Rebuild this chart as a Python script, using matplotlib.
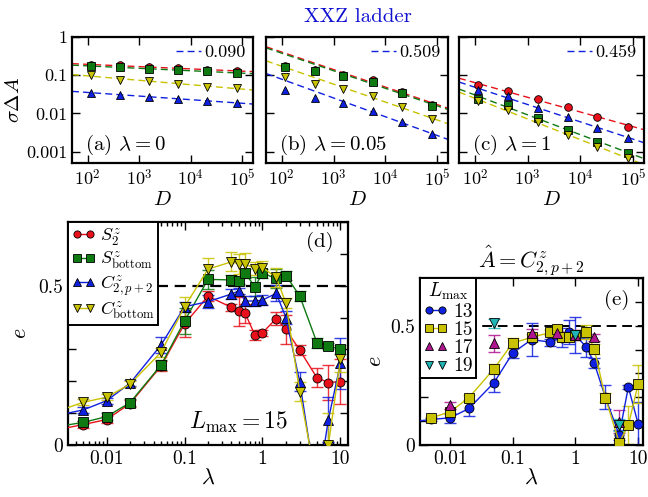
import numpy as np
import matplotlib
matplotlib.use('Agg')
import matplotlib.pyplot as plt
from matplotlib.ticker import LogLocator, FuncFormatter, MultipleLocator, NullFormatter, FixedLocator
from matplotlib.lines import Line2D

plt.rcParams['font.family'] = 'serif'
plt.rcParams['font.serif'] = ['cmr10', 'DejaVu Serif']
plt.rcParams['mathtext.fontset'] = 'cm'
plt.rcParams['axes.formatter.use_mathtext'] = True

# ---------------- data: top panels (sigma Delta A vs D) ----------------
D = [115, 430, 1550, 5700, 20500, 80000]
panel_labels = [r'(a) $\lambda=0$', r'(b) $\lambda=0.05$', r'(c) $\lambda=1$']
exponent_labels = ['0.090', '0.509', '0.459']
fit_start = [0, 2, 0]

a_S2 = [0.19, 0.18, 0.16, 0.15, 0.14, 0.13]
a_Sbot = [0.175, 0.16, 0.145, 0.135, 0.125, 0.115]
a_C2p2 = [0.035, 0.031, 0.0265, 0.024, 0.0216, 0.0187]
a_Cbot = [0.102, 0.075, 0.07, 0.058, 0.05, 0.047]

b_S2 = [0.17, 0.14, 0.10, 0.075, 0.037, 0.017]
b_Sbot = [0.16, 0.125, 0.095, 0.068, 0.034, 0.016]
b_C2p2 = [0.041, 0.0245, 0.019, 0.0118, 0.0058, 0.0028]
b_Cbot = [0.087, 0.058, 0.044, 0.028, 0.0147, 0.007]

c_S2 = [0.054, 0.038, 0.024, 0.0146, 0.0081, 0.0045]
c_Sbot = [0.024, 0.0169, 0.0076, 0.0037, 0.0018, 0.00092]
c_C2p2 = [0.041, 0.028, 0.0139, 0.0081, 0.0041, 0.0023]
c_Cbot = [0.021, 0.0126, 0.0058, 0.0027, 0.0013, 0.00068]

# ---------------- data: panel (d), L_max = 15 ----------------
lam = [0.002, 0.005, 0.01, 0.02, 0.05, 0.1, 0.2, 0.4, 0.5, 0.6, 0.8, 1, 1.5, 2, 3, 5, 7, 10]
d_S2 = [0.045, 0.064, 0.08, 0.13, 0.248, 0.38, 0.467, 0.432, 0.42, 0.413, 0.345, 0.352, 0.397, 0.363, 0.298, 0.211, 0.196, 0.199]
d_S2_err = [0.01, 0.01, 0.01, 0.01, 0.015, 0.04, 0.015, 0.01, 0.045, 0.03, 0.015, 0.01, 0.02, 0.045, 0.015, 0.03, 0.055, 0.07]
d_Sbot = [0.055, 0.071, 0.089, 0.133, 0.251, 0.389, 0.52, 0.518, 0.516, 0.539, 0.497, 0.539, 0.523, 0.532, 0.468, 0.321, 0.311, 0.30]
d_Sbot_err = [0.005, 0.005, 0.01, 0.01, 0.015, 0.04, 0.03, 0.015, 0.01, 0.015, 0.03, 0.015, 0.03, 0.015, 0.015, 0.015, 0.01, 0.015]
d_C2p2 = [0.09, 0.11, 0.139, 0.194, 0.314, 0.434, 0.45, 0.474, 0.484, 0.452, 0.452, 0.455, 0.476, 0.40, 0.199, -0.15, 0.08, 0.256]
d_C2p2_err = [0.01, 0.01, 0.01, 0.01, 0.025, 0.015, 0.02, 0.015, 0.01, 0.015, 0.015, 0.015, 0.025, 0.02, 0.03, 0.03, 0.07, 0.08]
d_Cbot = [0.10, 0.134, 0.15, 0.191, 0.291, 0.434, 0.552, 0.575, 0.568, 0.568, 0.554, 0.557, 0.526, 0.445, 0.167, -0.126, 0.0, 0.269]
d_Cbot_err = [0.01, 0.01, 0.01, 0.01, 0.015, 0.03, 0.035, 0.03, 0.03, 0.035, 0.02, 0.02, 0.03, 0.015, 0.03, 0.03, 0.1, 0.04]
d_labels = [r'$S^z_2$', r'$S^z_{\rm bottom}$', r'$C^z_{2,p+2}$', r'$C^z_{\rm bottom}$']

# ---------------- data: panel (e), A = C^z_{2,p+2} ----------------
lam13 = [0.002, 0.005, 0.01, 0.02, 0.05, 0.1, 0.2, 0.4, 0.6, 0.8, 1, 1.5, 2, 3, 5, 7, 10]
e13 = [0.095, 0.107, 0.114, 0.153, 0.261, 0.386, 0.442, 0.431, 0.45, 0.472, 0.46, 0.41, 0.343, 0.201, 0.042, 0.243, 0.09]
e13_err = [0.005, 0.005, 0.02, 0.03, 0.04, 0.02, 0.07, 0.015, 0.04, 0.05, 0.075, 0.04, 0.02, 0.05, 0.02, 0.01, 0.09]
lam15 = [0.005, 0.01, 0.02, 0.05, 0.1, 0.2, 0.4, 0.5, 0.6, 0.8, 1, 1.5, 2, 3, 5, 7, 10]
e15 = [0.114, 0.139, 0.199, 0.319, 0.428, 0.451, 0.472, 0.486, 0.451, 0.454, 0.462, 0.475, 0.403, 0.199, 0.01, 0.083, 0.254]
e15_err = [0.005, 0.01, 0.01, 0.02, 0.02, 0.015, 0.01, 0.01, 0.015, 0.015, 0.02, 0.03, 0.02, 0.02, 0.02, 0.08, 0.08]
lam17 = [0.01, 0.05, 0.2, 0.5, 1, 2, 5]
e17 = [0.167, 0.426, 0.468, 0.468, 0.46, 0.451, 0.098]
e17_err = [0.015, 0.035, 0.02, 0.01, 0.02, 0.015, 0.048]
lam19 = [0.05, 1, 5]
e19 = [0.51, 0.462, 0.083]
e19_err = [0.02, 0.01, 0.025]
e_labels = ['13', '15', '17', '19']

RED = '#e8101a'
GREEN = '#0f7a12'
BLUE = '#1020e0'
YEL = '#c8c200'
MAG = '#b01590'
CYAN = '#20b4b4'

fig = plt.figure(figsize=(6.48, 4.97), dpi=100)
W, H = 648.0, 497.0


def add_ax(x0, x1, y0, y1):
    return fig.add_axes([x0 / W, 1 - y1 / H, (x1 - x0) / W, (y1 - y0) / H])


def style(ax):
    ax.tick_params(which='both', direction='in', top=True, right=True, width=1)
    ax.tick_params(which='major', length=6)
    ax.tick_params(which='minor', length=3)
    for s in ax.spines.values():
        s.set_linewidth(1.6)


top_axes = [add_ax(72, 253, 37, 163), add_ax(266, 448, 37, 163), add_ax(459, 644, 37, 163)]
top_data = [
    (a_S2, a_Sbot, a_C2p2, a_Cbot),
    (b_S2, b_Sbot, b_C2p2, b_Cbot),
    (c_S2, c_Sbot, c_C2p2, c_Cbot),
]
series_style = [(RED, 'o'), (GREEN, 's'), (BLUE, '^'), (YEL, 'v')]

for i, ax in enumerate(top_axes):
    ax.set_xscale('log')
    ax.set_yscale('log')
    ax.set_xlim(50, 1.6e5)
    ax.set_ylim(5e-4, 1)
    xl = np.array(ax.get_xlim())
    xs = np.logspace(np.log10(xl[0]), np.log10(xl[1]), 20)
    Darr = np.array(D, dtype=float)
    for vals, (col, mk) in zip(top_data[i], series_style):
        v = np.array(vals)
        s = fit_start[i]
        p = np.polyfit(np.log10(Darr[s:]), np.log10(v[s:]), 1)
        ax.plot(xs, 10 ** np.polyval(p, np.log10(xs)), ls=(0, (5, 3)), color=col, lw=1.0, zorder=2)
    for vals, (col, mk) in zip(top_data[i], series_style):
        ax.plot(D, vals, ls='none', marker=mk, color=col, mec='k', mew=0.6, ms=5.5, zorder=3)
    style(ax)
    ax.xaxis.set_major_locator(FixedLocator([1e2, 1e3, 1e4, 1e5]))
    ax.xaxis.set_minor_locator(LogLocator(base=10, subs=np.arange(2, 10)))
    ax.xaxis.set_minor_formatter(NullFormatter())
    ax.xaxis.set_major_formatter(FuncFormatter(lambda x, p: r'$10^{%d}$' % round(np.log10(x))))
    ax.yaxis.set_major_locator(FixedLocator([1e-3, 1e-2, 1e-1, 1]))
    ax.yaxis.set_minor_locator(LogLocator(base=10, subs=np.arange(2, 10)))
    ax.yaxis.set_minor_formatter(NullFormatter())
    if i == 0:
        ax.yaxis.set_major_formatter(FuncFormatter(lambda y, p: {1e-3: '0.001', 1e-2: '0.01', 1e-1: '0.1', 1: '1'}.get(y, '')))
        ax.set_ylabel(r'$\sigma\Delta A$', fontsize=15, labelpad=2)
    else:
        ax.yaxis.set_major_formatter(NullFormatter())
    ax.tick_params(labelsize=13)
    ax.set_xlabel(r'$D$', fontsize=15, labelpad=2)
    ax.text(0.07, 0.14, panel_labels[i], transform=ax.transAxes, fontsize=15, va='center', ha='left')
    ax.legend(handles=[Line2D([], [], color=BLUE, ls=(0, (5, 3)), lw=1.0)], labels=[exponent_labels[i]],
              loc='upper right', frameon=False, fontsize=13, handlelength=1.4, handletextpad=0.2,
              borderaxespad=0.2, borderpad=0.2)

fig.text(358 / W, 1 - 17 / H, 'XXZ ladder', color='#1010d0', fontsize=15, ha='center', va='center')

# ---------------- panel (d) ----------------
axd = add_ax(68, 348, 222, 445)
axd.set_xscale('log')
axd.set_xlim(0.0032, 12.5)
axd.set_ylim(0, 0.70)
axd.axhline(0.5, color='k', ls=(0, (5, 3)), lw=1.6, zorder=1)
handles = []
for vals, errs, (col, mk), lab in zip([d_S2, d_Sbot, d_C2p2, d_Cbot],
                                       [d_S2_err, d_Sbot_err, d_C2p2_err, d_Cbot_err],
                                       series_style, d_labels):
    axd.errorbar(lam, vals, yerr=errs, fmt='none', ecolor=col, elinewidth=1.0, capsize=4.5, capthick=1.0, alpha=0.85, zorder=2)
    h, = axd.plot(lam, vals, color=col, lw=1.0, marker=mk, mec='k', mew=0.6, ms=6.5, label=lab, zorder=3)
    handles.append(h)
style(axd)
axd.xaxis.set_major_locator(FixedLocator([0.001, 0.01, 0.1, 1, 10]))
axd.xaxis.set_major_formatter(FuncFormatter(lambda x, p: {0.01: '0.01', 0.1: '0.1', 1: '1', 10: '10'}.get(round(x, 4), '')))
axd.xaxis.set_minor_locator(LogLocator(base=10, subs=np.arange(2, 10)))
axd.xaxis.set_minor_formatter(NullFormatter())
axd.yaxis.set_major_locator(MultipleLocator(0.1))
axd.yaxis.set_major_formatter(FuncFormatter(lambda y, p: {0.0: '0', 0.5: '0.5'}.get(round(y, 2), '')))
axd.tick_params(labelsize=14)
axd.set_xlabel(r'$\lambda$', fontsize=16, labelpad=0)
axd.set_ylabel(r'$e$', fontsize=16, labelpad=6)
leg = axd.legend(handles=handles, loc='upper left', numpoints=2, fontsize=13, markerscale=0.8,
                 handlelength=1.3, handletextpad=0.25, labelspacing=0.1, borderpad=0.2, borderaxespad=0.0,
                 fancybox=False, framealpha=1, edgecolor='k')
leg.get_frame().set_linewidth(1.4)
axd.text(0.95, 0.91, '(d)', transform=axd.transAxes, fontsize=15, ha='right', va='center')
axd.text(0.61, 0.1, r'$L_{\max}=15$', transform=axd.transAxes, fontsize=17, ha='center', va='center')

# ---------------- panel (e) ----------------
axe = add_ax(420, 643, 278, 445)
axe.set_xscale('log')
axe.set_xlim(0.0033, 12)
axe.set_ylim(0, 0.70)
axe.axhline(0.5, color='k', ls=(0, (5, 3)), lw=1.4, zorder=1)
e_handles = []
for lx, vals, errs, col, mk, ls in [(lam13, e13, e13_err, BLUE, 'o', '-'),
                                    (lam15, e15, e15_err, YEL, 's', '-'),
                                    (lam17, e17, e17_err, MAG, '^', 'none'),
                                    (lam19, e19, e19_err, CYAN, 'v', 'none')]:
    axe.errorbar(lx, vals, yerr=errs, fmt='none', ecolor=col, elinewidth=1.0, capsize=4.5, capthick=1.0, alpha=0.85, zorder=2)
    h, = axe.plot(lx, vals, color=col, lw=1.0, ls=ls, marker=mk, mec='k', mew=0.6, ms=6.5, zorder=3)
    e_handles.append(h)
style(axe)
axe.xaxis.set_major_locator(FixedLocator([0.001, 0.01, 0.1, 1, 10]))
axe.xaxis.set_major_formatter(FuncFormatter(lambda x, p: {0.01: '0.01', 0.1: '0.1', 1: '1', 10: '10'}.get(round(x, 4), '')))
axe.xaxis.set_minor_locator(LogLocator(base=10, subs=np.arange(2, 10)))
axe.xaxis.set_minor_formatter(NullFormatter())
axe.yaxis.set_major_locator(MultipleLocator(0.1))
axe.yaxis.set_major_formatter(FuncFormatter(lambda y, p: {0.0: '0', 0.5: '0.5'}.get(round(y, 2), '')))
axe.tick_params(labelsize=14)
axe.set_xlabel(r'$\lambda$', fontsize=16, labelpad=0)
axe.set_ylabel(r'$e$', fontsize=16, labelpad=4)
axe.set_title(r'$\hat{A}=C^z_{2,p+2}$', fontsize=16, pad=6)
leg2 = axe.legend(handles=e_handles, labels=e_labels, title=r'$L_{\max}$', loc='upper left', numpoints=2,
                  fontsize=14, title_fontsize=14, markerscale=0.8, handlelength=1.3, handletextpad=0.25,
                  labelspacing=0.02, borderpad=0.15, borderaxespad=0.0, fancybox=False, framealpha=1, edgecolor='k')
leg2.get_frame().set_linewidth(1.4)
axe.text(0.94, 0.87, '(e)', transform=axe.transAxes, fontsize=15, ha='right', va='center')

fig.savefig('out.png', dpi=100)
